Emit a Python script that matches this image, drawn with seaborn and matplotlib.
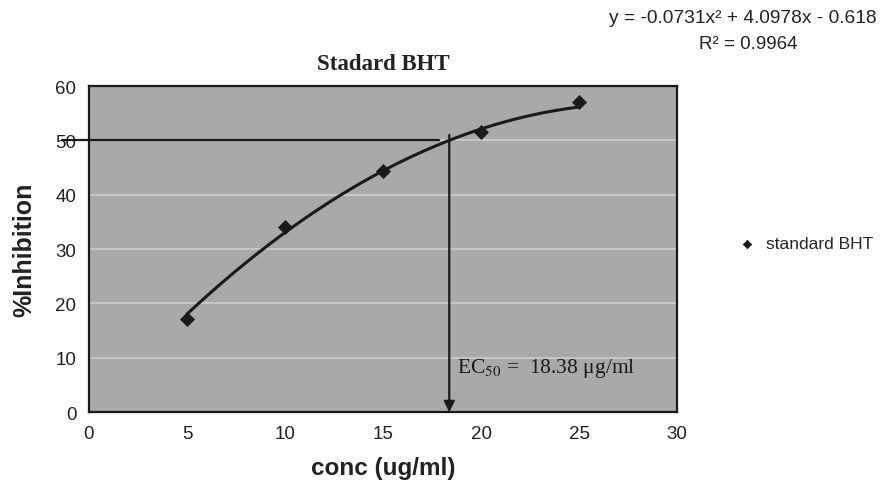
import numpy as np
import pandas as pd
import matplotlib
matplotlib.use("Agg")
import matplotlib.pyplot as plt
import seaborn as sns

# Measured inhibition of the BHT standard
conc = [5, 10, 15, 20, 25]
inhibition = [17.2, 34.1, 44.3, 51.5, 57.0]

# Second-order trendline: y = a*x^2 + b*x + c
coef_a, coef_b, coef_c = -0.0731, 4.0978, -0.618
r_squared = 0.9964
ec50 = 18.38

x_ticks = [0, 5, 10, 15, 20, 25, 30]
y_ticks = [0, 10, 20, 30, 40, 50, 60]

sns.set_theme(style="white")
plt.rcParams["font.family"] = ["Liberation Sans", "DejaVu Sans"]
plt.rcParams["mathtext.fontset"] = "stix"

df = pd.DataFrame({"conc": conc, "inhibition": inhibition})

fig = plt.figure(figsize=(8.96, 4.89), dpi=100)
ax = fig.add_axes([0.0993, 0.155, 0.6563, 0.667])
ax.set_facecolor("#a9a9a9")

# trendline through the fitted coefficients
xs = np.linspace(min(conc), max(conc), 200)
ys = coef_a * xs ** 2 + coef_b * xs + coef_c
sns.lineplot(x=xs, y=ys, ax=ax, color="#1a1a1a", linewidth=2.2, zorder=3)

sns.scatterplot(data=df, x="conc", y="inhibition", ax=ax, marker="D", s=50,
                color="#1a1a1a", edgecolor="#1a1a1a", zorder=4,
                label="standard BHT", legend=False)

ax.set_xlim(0, 30)
ax.set_ylim(0, 60)
ax.set_xticks(x_ticks)
ax.set_yticks(y_ticks)
ax.tick_params(axis="both", labelsize=13.5, colors="#222222", length=0, pad=9)
ax.grid(axis="y", color="#cdcdcd", linewidth=1.2)
ax.grid(axis="x", visible=False)
ax.set_axisbelow(True)
for sp in ax.spines.values():
    sp.set_color("#1a1a1a")
    sp.set_linewidth(1.6)

ax.set_xlabel("conc (ug/ml)", fontsize=17.5, fontweight="bold", color="#222222", labelpad=10)
ax.set_ylabel("%Inhibition", fontsize=18, fontweight="bold", color="#222222", labelpad=14)
ax.set_title("Stadard BHT", fontsize=16.5, fontweight="bold", family="Liberation Serif",
             color="#222222", pad=12)

# EC50 guide lines
ax.plot([-1.4, ec50 - 0.5], [50, 50], color="#1a1a1a", linewidth=1.6,
        clip_on=False, zorder=5)
ax.annotate("", xy=(ec50, 0), xytext=(ec50, 51),
            arrowprops=dict(arrowstyle="-|>", color="#1a1a1a", lw=1.6,
                            mutation_scale=16, shrinkA=0, shrinkB=0),
            zorder=5)
ax.text(ec50 + 0.4, 8.2, r"EC$_{50}$ =  " + f"{ec50:.2f} μg/ml", fontsize=15.5,
        family="Liberation Serif", color="#1a1a1a", ha="left", va="center",
        zorder=6)

# trendline equation
eq = f"y = {coef_a:.4f}x² + {coef_b:.4f}x - {abs(coef_c):.3f}"
fig.text(0.829, 0.962, eq, fontsize=13.8, ha="center", va="center", color="#222222")
fig.text(0.835, 0.908, f"R² = {r_squared:.4f}", fontsize=13.5, ha="center",
         va="center", color="#222222")

# legend outside the plotting area
handles, labels = ax.get_legend_handles_labels()
fig.legend(handles, labels, loc="center left", bbox_to_anchor=(0.797, 0.5),
           frameon=False, fontsize=12.5, handletextpad=0.1, markerscale=0.6)

fig.savefig("out.png", dpi=100)
